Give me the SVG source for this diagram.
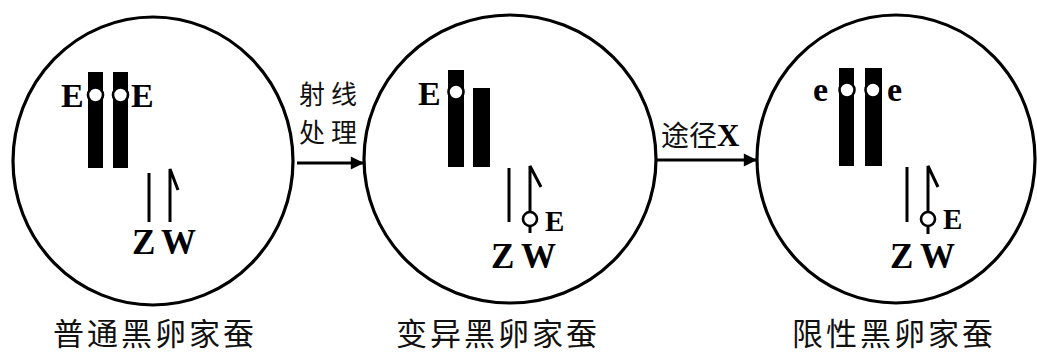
<svg xmlns="http://www.w3.org/2000/svg" width="1037" height="356" viewBox="0 0 1037 356">
  <defs>
    <style>
      .cell { fill: none; stroke: #000; stroke-width: 3.2; }
      .bar { fill: #000; }
      .cen { fill: #fff; stroke: #000; stroke-width: 2.6; }
      .sex { fill: none; stroke: #000; stroke-width: 3; stroke-linejoin: miter; }
      .gene { font-family: "Liberation Serif", serif; font-weight: bold; fill: #000; }
      .cjk { font-family: "Noto Sans CJK SC", "Noto Sans CJK JP", sans-serif; fill: #111; }
      .link { stroke: #000; stroke-width: 3; fill: none; }
    </style>
    <marker id="head" viewBox="0 0 10 10" refX="10" refY="5" markerWidth="7" markerHeight="4.4" markerUnits="strokeWidth" orient="auto">
      <path d="M0,0 L10,5 L0,10 Z" fill="#000"/>
    </marker>
  </defs>

  <!-- normal black-egg silkworm -->
  <g id="normal">
    <ellipse class="cell" cx="153" cy="161" rx="140" ry="144"/>
    <rect class="bar" x="88" y="72" width="15" height="96"/>
    <rect class="bar" x="113" y="72" width="15" height="96"/>
    <circle class="cen" cx="95.5" cy="95" r="7.5"/>
    <circle class="cen" cx="120.5" cy="95" r="7.5"/>
    <text class="gene" x="61" y="107" font-size="34">E</text>
    <text class="gene" x="131" y="107" font-size="34">E</text>
    <path class="sex" d="M149,173 V222"/>
    <path class="sex" d="M170,222 V169 L178,190"/>
    <text class="gene" x="132" y="254" font-size="35">Z</text>
    <text class="gene" x="161" y="254" font-size="35">W</text>
    <text class="cjk" x="155" y="345" font-size="31" letter-spacing="3" text-anchor="middle">普通黑卵家蚕</text>
  </g>

  <!-- mutant black-egg silkworm -->
  <g id="mutant">
    <ellipse class="cell" cx="510" cy="159" rx="146" ry="144"/>
    <rect class="bar" x="448" y="70" width="16" height="97"/>
    <rect class="bar" x="473" y="88" width="17" height="79"/>
    <circle class="cen" cx="456" cy="92" r="7.5"/>
    <text class="gene" x="418" y="105" font-size="34">E</text>
    <path class="sex" d="M509,168 V222"/>
    <path class="sex" d="M530,233 V166 L541,187"/>
    <circle class="cen" cx="530" cy="219" r="7"/>
    <text class="gene" x="545" y="231" font-size="29">E</text>
    <text class="gene" x="491" y="268" font-size="35">Z</text>
    <text class="gene" x="521" y="268" font-size="35">W</text>
    <text class="cjk" x="498" y="345" font-size="31" letter-spacing="3" text-anchor="middle">变异黑卵家蚕</text>
  </g>

  <!-- sex-limited black-egg silkworm -->
  <g id="limited">
    <ellipse class="cell" cx="896" cy="159" rx="139" ry="144"/>
    <rect class="bar" x="839" y="68" width="15" height="98"/>
    <rect class="bar" x="865" y="68" width="17" height="98"/>
    <circle class="cen" cx="847" cy="90" r="7.5"/>
    <circle class="cen" cx="873" cy="90" r="7.5"/>
    <text class="gene" x="813" y="101" font-size="34">e</text>
    <text class="gene" x="887" y="101" font-size="34">e</text>
    <path class="sex" d="M907,167 V222"/>
    <path class="sex" d="M928,234 V166 L938,187"/>
    <circle class="cen" cx="928" cy="219" r="7"/>
    <text class="gene" x="943" y="229" font-size="29">E</text>
    <text class="gene" x="890" y="268" font-size="35">Z</text>
    <text class="gene" x="920" y="268" font-size="35">W</text>
    <text class="cjk" x="894" y="345" font-size="31" letter-spacing="3" text-anchor="middle">限性黑卵家蚕</text>
  </g>

  <!-- transitions between the three stages -->
  <g id="connectors">
    <line class="link" x1="297" y1="163" x2="364" y2="163" marker-end="url(#head)"/>
    <text class="cjk" x="331" y="104" font-size="26" letter-spacing="6" text-anchor="middle">射线</text>
    <text class="cjk" x="331" y="142" font-size="26" letter-spacing="6" text-anchor="middle">处理</text>
    <line class="link" x1="657" y1="160" x2="757" y2="160" marker-end="url(#head)"/>
    <text x="661" y="146" font-size="28"><tspan class="cjk">途径</tspan><tspan class="gene" font-size="31">X</tspan></text>
  </g>
</svg>
